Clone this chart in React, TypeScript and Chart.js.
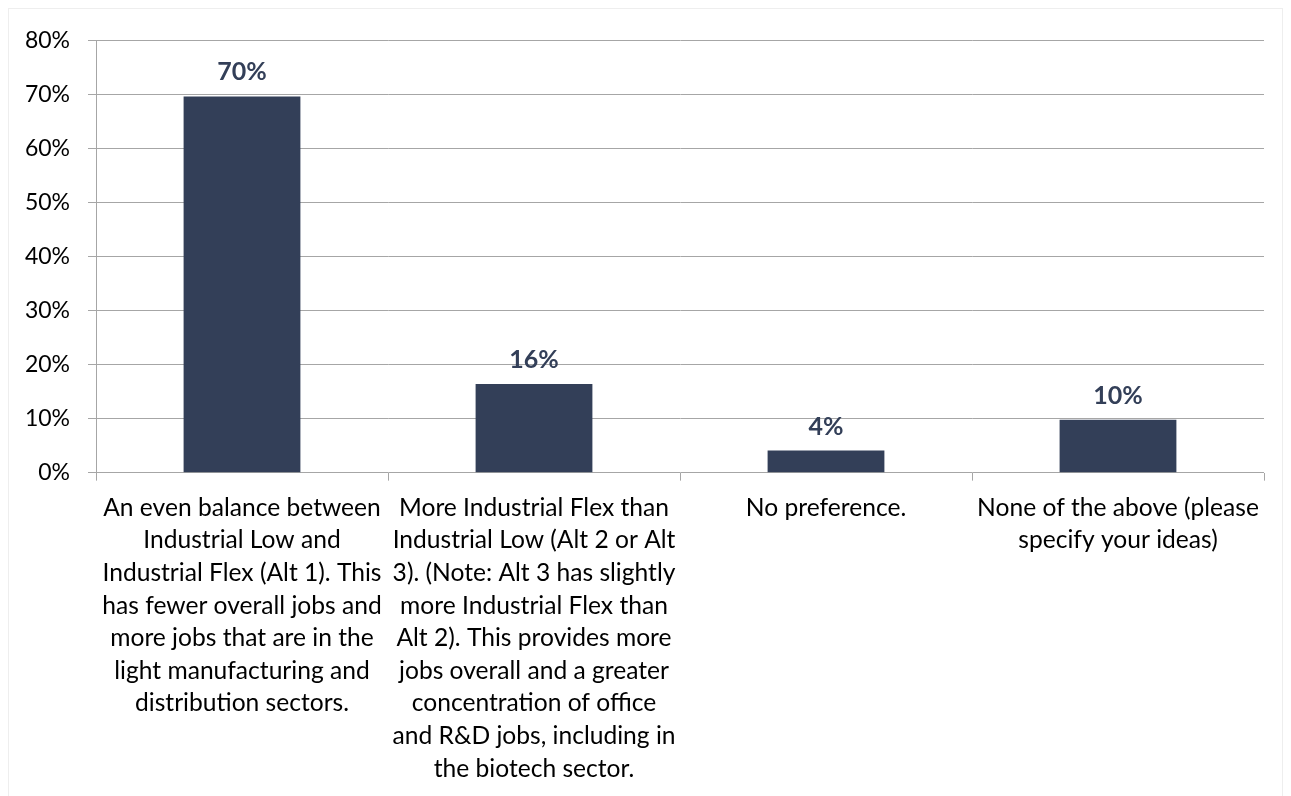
import React, { useEffect, useRef } from "react";
import { Chart, registerables } from "chart.js";

Chart.register(...registerables);

const categories: string[][] = [
  [
    "An even balance between",
    "Industrial Low and",
    "Industrial Flex (Alt 1). This",
    "has fewer overall jobs and",
    "more jobs that are in the",
    "light manufacturing and",
    "distribution sectors.",
  ],
  [
    "More Industrial Flex than",
    "Industrial Low (Alt 2 or Alt",
    "3). (Note: Alt 3 has slightly",
    "more Industrial Flex than",
    "Alt 2). This provides more",
    "jobs overall and a greater",
    "concentration of office",
    "and R&D jobs, including in",
    "the biotech sector.",
  ],
  ["No preference."],
  ["None of the above (please", "specify your ideas)"],
];

const values: number[] = [69.7, 16.4, 4.1, 9.8];
const valueLabels: string[] = ["70%", "16%", "4%", "10%"];
const yTicks: number[] = [0, 10, 20, 30, 40, 50, 60, 70, 80];

const FONT = "Lato, 'Open Sans', sans-serif";

const dataLabelPlugin = {
  id: "valueLabels",
  afterDatasetsDraw(chart: any) {
    const ctx = chart.ctx;
    const meta = chart.getDatasetMeta(0);
    ctx.save();
    ctx.font = `bold 25px ${FONT}`;
    ctx.fillStyle = "#333F58";
    ctx.textAlign = "center";
    ctx.textBaseline = "alphabetic";
    meta.data.forEach((bar: any, i: number) => {
      ctx.fillText(valueLabels[i], bar.x, bar.y - 16);
    });
    ctx.restore();
  },
};

export default function App() {
  const canvasRef = useRef<HTMLCanvasElement | null>(null);

  useEffect(() => {
    if (!canvasRef.current) return;
    const chart = new Chart(canvasRef.current, {
      type: "bar",
      data: {
        labels: categories,
        datasets: [
          {
            data: values,
            backgroundColor: "#333F58",
            categoryPercentage: 1,
            barPercentage: 0.4,
          },
        ],
      },
      options: {
        animation: false,
        responsive: true,
        maintainAspectRatio: false,
        layout: { padding: { top: 24, right: 18, left: 0, bottom: 1 } },
        plugins: {
          legend: { display: false },
          tooltip: { enabled: false },
        },
        scales: {
          x: {
            grid: {
              display: true,
              drawOnChartArea: false,
              drawTicks: true,
              tickLength: 8,
              color: "#a6a6a6",
              offset: true,
            },
            border: { display: false },
            ticks: {
              autoSkip: false,
              maxRotation: 0,
              minRotation: 0,
              color: "#000000",
              padding: 11,
              font: { family: FONT, size: 24.6, lineHeight: 1.325 },
            },
          },
          y: {
            min: 0,
            max: 80,
            afterBuildTicks: (scale: any) => {
              scale.ticks = yTicks.map((v) => ({ value: v }));
            },
            afterFit: (scale: any) => {
              scale.width = 87;
            },
            grid: {
              color: "#a6a6a6",
              tickLength: 8,
              lineWidth: 1,
            },
            border: { display: true, color: "#a6a6a6" },
            ticks: {
              color: "#000000",
              padding: 18,
              font: { family: FONT, size: 23 },
              callback: (v: any) => `${v}%`,
            },
          },
        },
      },
      plugins: [dataLabelPlugin],
    });
    return () => chart.destroy();
  }, []);

  return (
    <div
      style={{
        position: "relative",
        height: 790,
        border: "1px solid #eeeeee",
        boxSizing: "border-box",
        background: "#ffffff",
      }}
    >
      <canvas ref={canvasRef} />
    </div>
  );
}
